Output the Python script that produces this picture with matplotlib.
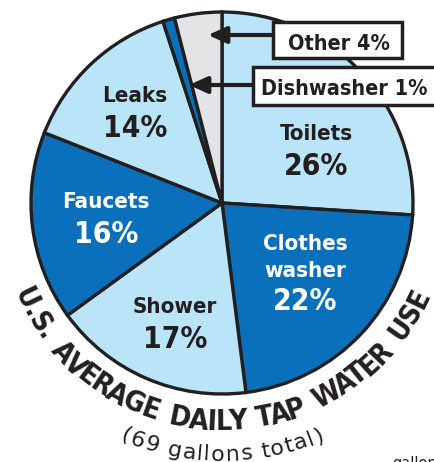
import numpy as np
import matplotlib
matplotlib.use("Agg")
import matplotlib.pyplot as plt
from matplotlib.font_manager import FontProperties
from matplotlib.patches import Rectangle

# data
labels = ["Toilets", "Clothes\nwasher", "Shower", "Faucets", "Leaks", "Dishwasher", "Other"]
shares = [26, 22, 17, 16, 14, 1, 4]
colors = ["#bae4f7", "#0a70bb", "#bae4f7", "#0a70bb", "#bae4f7", "#0a70bb", "#e3e4e6"]
title = "U.S. AVERAGE DAILY TAP WATER USE"
subtitle = "(69 gallons total)"

W, H = 434, 462
INK = "#231f20"

def cond(size, weight="bold"):
    return FontProperties(family="DejaVu Sans", stretch="condensed", weight=weight, size=size)

fig = plt.figure(figsize=(W / 100, H / 100), dpi=100)
ax = fig.add_axes([0, 0, 1, 1])

cx, cy, R = 222, H - 203, 191  # pie centre in pixels (y up)

ax.pie(shares, colors=colors, startangle=90, counterclock=False,
       center=(cx, cy), radius=R, frame=True,
       wedgeprops=dict(edgecolor=INK, linewidth=2.4))
ax.set_xlim(0, W)
ax.set_ylim(0, H)
ax.axis("off")

# in-slice labels: x, baseline of name, baseline of pct (image coords)
inside = {
    "Toilets": (316, 140, 175),
    "Clothes\nwasher": (305, 250, 310),
    "Shower": (175, 313, 348),
    "Faucets": (106, 208, 243),
    "Leaks": (135, 102, 137),
}
for lab, val, col in zip(labels, shares, colors):
    if lab not in inside:
        continue
    x, y1, y2 = inside[lab]
    tc = "white" if col == "#0a70bb" else INK
    ax.text(x, H - y1, lab.split("\n")[0], ha="center", va="baseline",
            fontproperties=cond(16), color=tc)
    if "\n" in lab:
        ax.text(x, H - y1 - 27, lab.split("\n")[1], ha="center", va="baseline",
                fontproperties=cond(16), color=tc)
    ax.text(x, H - y2, f"{val}%", ha="center", va="baseline",
            fontproperties=cond(21.5), color=tc)

# callout boxes for the thin slices: box x0, x1, y0, y1, text baseline, arrow y, arrow tip
callouts = {"Other": (273, 402, 22, 58, 50, 35, 208),
            "Dishwasher": (253, 436, 67, 105, 95, 85, 189)}
for lab, val in zip(labels, shares):
    if lab not in callouts:
        continue
    x0, x1, y0, y1, base, ay, tip = callouts[lab]
    ax.annotate("", xy=(tip, H - ay), xytext=(x0, H - ay),
                arrowprops=dict(arrowstyle="-|>,head_length=1.1,head_width=0.5",
                                color=INK, lw=3, shrinkA=0, shrinkB=0))
    ax.add_patch(Rectangle((x0, H - y1), x1 - x0, y1 - y0, fc="white", ec=INK, lw=2.5, zorder=4))
    ax.text((x0 + min(x1, W)) / 2 + 1, H - base, f"{lab} {val}%", ha="center", va="baseline",
            fontproperties=cond(15.5), color=INK, zorder=5)


def arc_text(s, r, span, prop, space_extra=0.0):
    rend = fig.canvas.get_renderer()
    wid = lambda t: rend.get_text_width_height_descent(t, prop, ismath=False)[0]
    base = wid("|")
    edges = [wid(s[:i] + "|") - base + space_extra * s[:i].count(" ") for i in range(len(s) + 1)]
    first = (edges[0] + edges[1]) / 2
    last = (edges[-2] + edges[-1]) / 2
    scale = np.radians(span) / (last - first)
    for i, ch in enumerate(s):
        if ch == " ":
            continue
        mid = (edges[i] + edges[i + 1]) / 2
        th = np.radians(-90) + (mid - (first + last) / 2) * scale
        ax.text(cx + r * np.cos(th), cy + r * np.sin(th), ch, rotation=np.degrees(th) + 90,
                rotation_mode="anchor", ha="center", va="baseline",
                fontproperties=prop, color=INK)


arc_text(title, 227, 128, cond(20.5), space_extra=5)
arc_text(subtitle, 258, 45, FontProperties(family="DejaVu Sans", size=16))

ax.text(392, -6, "gallons", ha="left", va="baseline", fontsize=10.5, color=INK,
        family="DejaVu Sans")

fig.savefig("out.png", dpi=100)
